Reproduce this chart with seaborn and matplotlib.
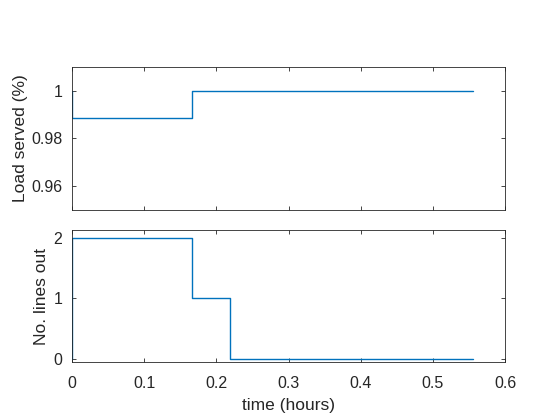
import numpy as np
import pandas as pd
import matplotlib
matplotlib.use('Agg')
import matplotlib.pyplot as plt
import seaborn as sns

# Данные (время в часах)
time_hours = [0.0, 0.0, 0.1667, 0.2194, 0.5556]
load_served = [1.0, 0.98875, 1.0, 1.0, 1.0]
lines_out = [0, 2, 1, 0, 0]

sns.set_style('white')
plt.rcParams['font.family'] = ['Liberation Sans', 'DejaVu Sans']
plt.rcParams['font.size'] = 10

LINE_COLOR = '#0072BD'
AX_COLOR = '#262626'

df = pd.DataFrame({'time': time_hours, 'load': load_served, 'lines': lines_out})

fig = plt.figure(figsize=(5.6, 4.2), dpi=100)
ax1 = fig.add_axes([0.1286, 0.5, 0.7732, 0.3405])
ax2 = fig.add_axes([0.1286, 0.138, 0.7732, 0.3144])


def style_axes(ax):
    for s in ax.spines.values():
        s.set_color(AX_COLOR)
        s.set_linewidth(0.6)
        s.set_visible(True)
    ax.tick_params(direction='in', length=3, width=0.6, color=AX_COLOR,
                   labelcolor=AX_COLOR, labelsize=11.5, pad=7,
                   top=True, right=True, bottom=True, left=True)
    ax.tick_params(axis='x', pad=10)
    ax.set_xlim(0, 0.6)
    ax.set_xticks([0, 0.1, 0.2, 0.3, 0.4, 0.5, 0.6])


sns.lineplot(data=df, x='time', y='load', estimator=None, sort=False,
             drawstyle='steps-post', color=LINE_COLOR, linewidth=1.0, ax=ax1)
style_axes(ax1)
ax1.set_ylim(0.95, 1.01)
ax1.set_yticks([0.96, 0.98, 1.0])
ax1.set_yticklabels(['0.96', '0.98', '1'])
ax1.set_xticklabels([])
ax1.set_xlabel('')
ax1.set_ylabel('Load served (%)', fontsize=12.5, color=AX_COLOR, labelpad=2)

sns.lineplot(data=df, x='time', y='lines', estimator=None, sort=False,
             drawstyle='steps-post', color=LINE_COLOR, linewidth=1.0, ax=ax2)
style_axes(ax2)
ax2.set_ylim(-0.05, 2.13)
ax2.set_yticks([0, 1, 2])
ax2.set_xticklabels(['0', '0.1', '0.2', '0.3', '0.4', '0.5', '0.6'])
ax2.set_xlabel('time (hours)', fontsize=12.5, color=AX_COLOR, labelpad=5)
ax2.set_ylabel('No. lines out', fontsize=12.5, color=AX_COLOR, labelpad=3)

fig.savefig('out.png', dpi=100)
plt.close(fig)
